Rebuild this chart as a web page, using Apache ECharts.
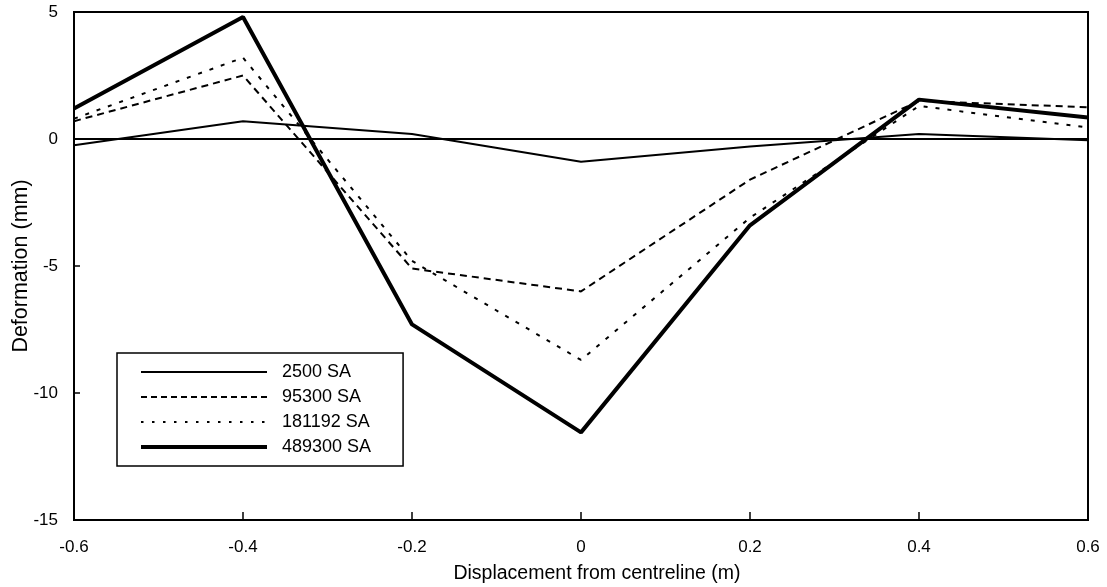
<!DOCTYPE html>
<html>
<head>
<meta charset="utf-8">
<script src="https://cdn.jsdelivr.net/npm/echarts@6/dist/echarts.min.js"></script>
<style>
html,body{margin:0;padding:0;background:#fff;}
#chart{width:1107px;height:587px;}
</style>
</head>
<body>
<div id="chart"></div>
<script>
const xValues = [-0.6, -0.4, -0.2, 0, 0.2, 0.4, 0.6];
const seriesNames = ['2500 SA', '95300 SA', '181192 SA', '489300 SA'];
const s2500 = [-0.25, 0.7, 0.2, -0.9, -0.3, 0.2, -0.05];
const s95300 = [0.7, 2.5, -5.1, -6.0, -1.6, 1.5, 1.25];
const s181192 = [0.8, 3.2, -4.8, -8.7, -3.1, 1.3, 0.45];
const s489300 = [1.2, 4.8, -7.3, -11.55, -3.4, 1.55, 0.85];
const yTicks = [-15, -10, -5, 0, 5];
const xTicks = ['-0.6', '-0.4', '-0.2', '0', '0.2', '0.4', '0.6'];

const pairs = (ys) => xValues.map((x, i) => [x, ys[i]]);
const FONT = '"Liberation Sans", Arial, sans-serif';

const chart = echarts.init(document.getElementById('chart'));
const styles = [
  {width: 2, type: 'solid'},
  {width: 2, type: [7, 5]},
  {width: 2, type: [4, 8]},
  {width: 4, type: 'solid'}
];
const legendStyles = [
  {width: 2, type: 'solid'},
  {width: 2, type: [6, 4]},
  {width: 2, type: [2.5, 8.5]},
  {width: 4, type: 'solid'}
];
const datas = [s2500, s95300, s181192, s489300];

const series = seriesNames.map((name, i) => ({
  name: name,
  type: 'line',
  data: pairs(datas[i]),
  symbol: 'none',
  symbolSize: 0,
  showSymbol: false,
  lineStyle: {color: '#000', width: styles[i].width, type: styles[i].type},
  itemStyle: {color: '#000'},
  z: 3,
  animation: false
}));
series[0].markLine = {
  silent: true,
  symbol: 'none',
  label: {show: false},
  lineStyle: {color: '#000', width: 2, type: 'solid'},
  data: [{yAxis: 0}],
  animation: false
};

chart.setOption({
  animation: false,
  backgroundColor: '#fff',
  grid: {
    left: 74, right: 19, top: 12, bottom: 67,
    outerBoundsMode: 'none',
    containLabel: false,
    show: true, borderColor: '#000', borderWidth: 2, backgroundColor: 'transparent'
  },
  legend: {
    data: seriesNames.map((name, i) => ({
      name: name,
      lineStyle: {color: '#000', width: legendStyles[i].width, type: legendStyles[i].type},
      itemStyle: {opacity: 0}
    })),
    orient: 'vertical',
    left: 117,
    top: 353,
    itemWidth: 126,
    itemHeight: 14,
    itemGap: 7,
    padding: [10, 32, 10, 22],
    borderColor: '#000',
    borderWidth: 1.5,
    backgroundColor: '#fff',
    itemStyle: {opacity: 0},
    textStyle: {fontFamily: FONT, fontSize: 18, color: '#000', padding: [0, 0, 0, 10]},
    inactiveColor: '#000'
  },
  xAxis: {
    type: 'value',
    min: -0.6,
    max: 0.6,
    interval: 0.2,
    name: 'Displacement from centreline (m)',
    nameLocation: 'middle',
    nameGap: 44,
    nameTextStyle: {fontFamily: FONT, fontSize: 19.5, color: '#000', padding: [0, 0, 0, 32]},
    axisLine: {show: true, onZero: false, lineStyle: {color: '#000', width: 2}},
    axisTick: {show: true, inside: true, length: 8, lineStyle: {color: '#000', width: 1.5}},
    axisLabel: {
      fontFamily: FONT, fontSize: 17, color: '#000', margin: 19,
      formatter: (v) => {
        const r = Math.round(v * 10) / 10;
        const idx = xValues.findIndex(x => Math.abs(x - r) < 1e-9);
        return idx >= 0 ? xTicks[idx] : String(r);
      }
    },
    splitLine: {show: false}
  },
  yAxis: {
    type: 'value',
    min: -15,
    max: 5,
    interval: 5,
    name: 'Deformation (mm)',
    nameLocation: 'middle',
    nameGap: 42,
    nameMoveOverlap: false,
    nameTextStyle: {fontFamily: FONT, fontSize: 21.5, color: '#000'},
    axisLine: {show: true, onZero: false, lineStyle: {color: '#000', width: 2}},
    axisTick: {show: true, inside: true, length: 6, lineStyle: {color: '#000', width: 1.5}},
    axisLabel: {
      fontFamily: FONT, fontSize: 17, color: '#000', margin: 16,
      formatter: (v) => {
        const idx = yTicks.indexOf(Math.round(v));
        return idx >= 0 ? String(yTicks[idx]) : String(v);
      }
    },
    splitLine: {show: false}
  },
  series: series
});
</script>
</body>
</html>
